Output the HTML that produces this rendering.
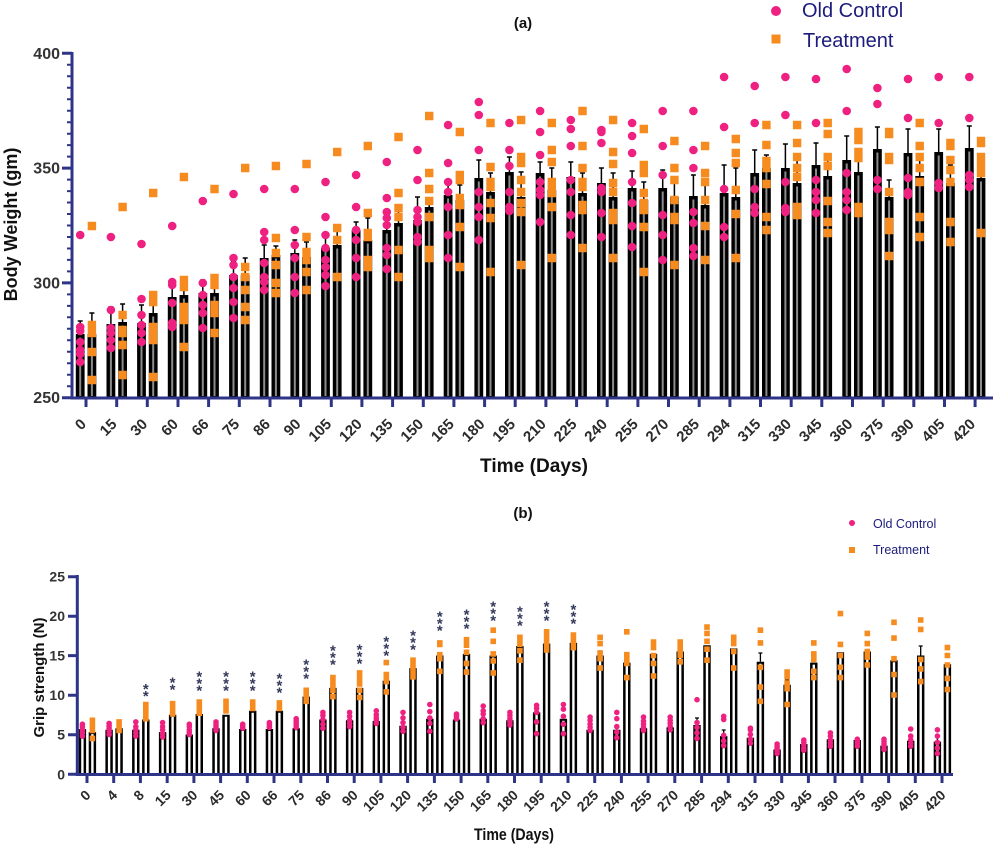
<!DOCTYPE html>
<html><head><meta charset="utf-8"><style>
html,body{margin:0;padding:0;background:#fff}
svg{display:block}
text{font-family:"Liberation Sans",Arial,sans-serif}
.tl{font-weight:bold;font-size:15px;fill:#2b2b2b}
.bl{font-weight:bold;font-size:14px;fill:#2b2b2b}
.st{font-weight:bold;font-size:15px;fill:#33385a;text-anchor:middle}
</style></head><body>
<svg width="1000" height="849" viewBox="0 0 1000 849" xmlns="http://www.w3.org/2000/svg">
<rect width="1000" height="849" fill="#fff"/>

<!-- ===== TOP CHART (a) ===== -->
<text x="523" y="28" font-size="15" font-weight="bold" text-anchor="middle" fill="#111">(a)</text>
<circle cx="776" cy="11" r="5" fill="#EE2080"/>
<text x="802" y="17" font-size="20" fill="#1c1c7c">Old Control</text>
<rect x="771.5" y="34.5" width="9" height="9" fill="#F68B1F"/>
<text x="803" y="47" font-size="20" fill="#1c1c7c">Treatment</text>

<text transform="translate(17,224.5) rotate(-90)" font-size="18" font-weight="bold" text-anchor="middle" fill="#111">Body Weight (gm)</text>
<text x="534" y="472" font-size="19" font-weight="bold" text-anchor="middle" fill="#111" textLength="108" lengthAdjust="spacingAndGlyphs">Time (Days)</text>

<g font-size="16" font-weight="bold" fill="#333" text-anchor="end">
<text x="60" y="59">400</text><text x="60" y="173.6">350</text><text x="60" y="288.4">300</text><text x="60" y="403.2">250</text>
</g>

<!-- bars -->
<path fill="none" stroke="#000" stroke-width="8.8" d="M80.2 397V334M91.9 397V334M110.9 397V324M122.6 397V322M141.5 397V323M153.2 397V313M172.2 397V297M183.9 397V295M202.8 397V293M214.5 397V293M233.5 397V275M245.2 397V275M264.2 397V258M275.9 397V255M294.8 397V253M306.5 397V257M325.5 397V248M337.2 397V245M356.1 397V230M367.8 397V240M386.8 397V230M398.5 397V223M417.5 397V220M429.2 397V207M448.1 397V195M459.8 397V200M478.8 397V178M490.5 397V192M509.4 397V172M521.1 397V197M540.1 397V173M551.8 397V190M570.8 397V177M582.5 397V193M601.4 397V183M613.1 397V197M632.1 397V188M643.8 397V200M662.7 397V188M674.4 397V197M693.4 397V196M705.1 397V205M724.1 397V193M735.8 397V197M754.7 397V173M766.4 397V168M785.4 397V168M797.1 397V183M816 397V165M827.7 397V176M846.7 397V160M858.4 397V172M877.4 397V149M889.1 397V197M908 397V153M919.7 397V176M938.7 397V152M950.4 397V183M969.3 397V148M981 397V178"/>
<path fill="none" stroke="#8c8c8c" stroke-width="2" d="M80.2 396V337.5M91.9 396V337.5M110.9 396V327.5M122.6 396V325.5M141.5 396V326.5M153.2 396V316.5M172.2 396V300.5M183.9 396V298.5M202.8 396V296.5M214.5 396V296.5M233.5 396V278.5M245.2 396V278.5M264.2 396V261.5M275.9 396V258.5M294.8 396V256.5M306.5 396V260.5M325.5 396V251.5M337.2 396V248.5M356.1 396V233.5M367.8 396V243.5M386.8 396V233.5M398.5 396V226.5M417.5 396V223.5M429.2 396V210.5M448.1 396V198.5M459.8 396V203.5M478.8 396V181.5M490.5 396V195.5M509.4 396V175.5M521.1 396V200.5M540.1 396V176.5M551.8 396V193.5M570.8 396V180.5M582.5 396V196.5M601.4 396V186.5M613.1 396V200.5M632.1 396V191.5M643.8 396V203.5M662.7 396V191.5M674.4 396V200.5M693.4 396V199.5M705.1 396V208.5M724.1 396V196.5M735.8 396V200.5M754.7 396V176.5M766.4 396V171.5M785.4 396V171.5M797.1 396V186.5M816 396V168.5M827.7 396V179.5M846.7 396V163.5M858.4 396V175.5M877.4 396V152.5M889.1 396V200.5M908 396V156.5M919.7 396V179.5M938.7 396V155.5M950.4 396V186.5M969.3 396V151.5M981 396V181.5"/>
<!-- error bars -->
<path fill="none" stroke="#000" stroke-width="1.5" d="M80.2 334V321M77.7 321h5M91.9 334V313M89.4 313h5M110.9 324V307M108.4 307h5M122.6 322V304M120.1 304h5M141.5 323V305M139 305h5M153.2 313V300M150.7 300h5M172.2 297V285M169.7 285h5M183.9 295V277M181.4 277h5M202.8 293V280M200.3 280h5M214.5 293V278M212 278h5M233.5 275V262M231 262h5M245.2 275V258M242.7 258h5M264.2 258V245M261.7 245h5M275.9 255V246M273.4 246h5M294.8 253V240M292.3 240h5M306.5 257V242M304 242h5M325.5 248V236M323 236h5M337.2 245V229M334.7 229h5M356.1 230V222M353.6 222h5M367.8 240V218M365.3 218h5M386.8 230V218M384.3 218h5M398.5 223V205M396 205h5M417.5 220V197M415 197h5M429.2 207V200M426.7 200h5M448.1 195V180M445.6 180h5M459.8 200V185M457.3 185h5M478.8 178V160M476.3 160h5M490.5 192V173M488 173h5M509.4 172V157M506.9 157h5M521.1 197V172M518.6 172h5M540.1 173V162M537.6 162h5M551.8 190V168M549.3 168h5M570.8 177V162M568.3 162h5M582.5 193V173M580 173h5M601.4 183V168M598.9 168h5M613.1 197V173M610.6 173h5M632.1 188V171M629.6 171h5M643.8 200V182M641.3 182h5M662.7 188V170M660.2 170h5M674.4 197V180M671.9 180h5M693.4 196V175M690.9 175h5M705.1 205V185M702.6 185h5M724.1 193V165M721.6 165h5M735.8 197V168M733.3 168h5M754.7 173V150M752.2 150h5M766.4 168V155M763.9 155h5M785.4 168V144M782.9 144h5M797.1 183V160M794.6 160h5M816 165V143M813.5 143h5M827.7 176V160M825.2 160h5M846.7 160V136M844.2 136h5M858.4 172V155M855.9 155h5M877.4 149V127M874.9 127h5M889.1 197V180M886.6 180h5M908 153V129M905.5 129h5M919.7 176V160M917.2 160h5M938.7 152V129M936.2 129h5M950.4 183V165M947.9 165h5M969.3 148V126M966.8 126h5M981 178V163M978.5 163h5"/>
<!-- control dots -->
<path fill="none" stroke="#EE2080" stroke-width="8.6" stroke-linecap="round" d="M80.2 235h.01M80.2 327h.01M80.2 331h.01M80.2 342h.01M80.2 350h.01M80.2 354h.01M80.2 362h.01M110.9 237h.01M110.9 310h.01M110.9 328h.01M110.9 333h.01M110.9 340h.01M110.9 348h.01M141.5 244h.01M141.5 299h.01M141.5 315h.01M141.5 325h.01M141.5 333h.01M141.5 342h.01M172.2 226h.01M172.2 282h.01M172.2 285h.01M172.2 303h.01M172.2 323h.01M172.2 327h.01M202.8 201h.01M202.8 283h.01M202.8 295h.01M202.8 305h.01M202.8 313h.01M202.8 328h.01M233.5 194h.01M233.5 258h.01M233.5 265h.01M233.5 277h.01M233.5 288h.01M233.5 302h.01M233.5 318h.01M264.2 189h.01M264.2 232h.01M264.2 240h.01M264.2 263h.01M264.2 277h.01M264.2 282h.01M264.2 290h.01M294.8 189h.01M294.8 230h.01M294.8 245h.01M294.8 258h.01M294.8 277h.01M294.8 293h.01M325.5 182h.01M325.5 217h.01M325.5 235h.01M325.5 248h.01M325.5 260h.01M325.5 267h.01M325.5 275h.01M325.5 286h.01M356.1 175h.01M356.1 207h.01M356.1 230h.01M356.1 240h.01M356.1 258h.01M356.1 277h.01M386.8 162h.01M386.8 198h.01M386.8 212h.01M386.8 218h.01M386.8 225h.01M386.8 248h.01M386.8 255h.01M386.8 269h.01M417.5 150h.01M417.5 180h.01M417.5 210h.01M417.5 217h.01M417.5 222h.01M417.5 237h.01M417.5 242h.01M448.1 125h.01M448.1 163h.01M448.1 182h.01M448.1 192h.01M448.1 207h.01M448.1 235h.01M448.1 258h.01M478.8 102h.01M478.8 115h.01M478.8 150h.01M478.8 192h.01M478.8 207h.01M478.8 217h.01M478.8 240h.01M509.4 123h.01M509.4 150h.01M509.4 166h.01M509.4 192h.01M509.4 207h.01M509.4 211h.01M540.1 111h.01M540.1 132h.01M540.1 155h.01M540.1 182h.01M540.1 190h.01M540.1 195h.01M540.1 222h.01M570.8 120h.01M570.8 129h.01M570.8 146h.01M570.8 180h.01M570.8 192h.01M570.8 215h.01M570.8 235h.01M601.4 130h.01M601.4 132h.01M601.4 143h.01M601.4 188h.01M601.4 192h.01M601.4 213h.01M601.4 237h.01M632.1 123h.01M632.1 136h.01M632.1 153h.01M632.1 182h.01M632.1 203h.01M632.1 226h.01M632.1 247h.01M662.7 111h.01M662.7 146h.01M662.7 175h.01M662.7 215h.01M662.7 235h.01M662.7 260h.01M693.4 111h.01M693.4 150h.01M693.4 168h.01M693.4 212h.01M693.4 223h.01M693.4 248h.01M693.4 256h.01M724.1 77h.01M724.1 127h.01M724.1 189h.01M724.1 227h.01M724.1 237h.01M754.7 86h.01M754.7 123h.01M754.7 189h.01M754.7 207h.01M754.7 213h.01M785.4 77h.01M785.4 115h.01M785.4 182h.01M785.4 208h.01M785.4 212h.01M816 79h.01M816 123h.01M816 180h.01M816 192h.01M816 200h.01M816 213h.01M846.7 69h.01M846.7 111h.01M846.7 173h.01M846.7 192h.01M846.7 200h.01M846.7 210h.01M877.4 88h.01M877.4 104h.01M877.4 180h.01M877.4 189h.01M908 79h.01M908 118h.01M908 178h.01M908 192h.01M908 195h.01M938.7 77h.01M938.7 123h.01M938.7 183h.01M938.7 188h.01M969.3 77h.01M969.3 118h.01M969.3 175h.01M969.3 180h.01M969.3 187h.01"/>
<!-- treatment squares -->
<path fill="none" stroke="#F68B1F" stroke-width="8.4" stroke-linecap="square" d="M91.9 226h.01M91.9 325h.01M91.9 333h.01M91.9 352h.01M91.9 380h.01M122.6 207h.01M122.6 315h.01M122.6 330h.01M122.6 333h.01M122.6 345h.01M122.6 375h.01M153.2 193h.01M153.2 295h.01M153.2 302h.01M153.2 327h.01M153.2 332h.01M153.2 340h.01M153.2 377h.01M183.9 177h.01M183.9 280h.01M183.9 287h.01M183.9 307h.01M183.9 313h.01M183.9 320h.01M183.9 347h.01M214.5 189h.01M214.5 278h.01M214.5 285h.01M214.5 305h.01M214.5 313h.01M214.5 333h.01M245.2 168h.01M245.2 267h.01M245.2 277h.01M245.2 290h.01M245.2 307h.01M245.2 320h.01M275.9 166h.01M275.9 238h.01M275.9 253h.01M275.9 265h.01M275.9 283h.01M275.9 293h.01M306.5 164h.01M306.5 237h.01M306.5 252h.01M306.5 260h.01M306.5 272h.01M306.5 290h.01M337.2 152h.01M337.2 228h.01M337.2 240h.01M337.2 277h.01M367.8 146h.01M367.8 213h.01M367.8 233h.01M367.8 237h.01M367.8 260h.01M367.8 267h.01M398.5 137h.01M398.5 193h.01M398.5 208h.01M398.5 217h.01M398.5 250h.01M398.5 277h.01M429.2 116h.01M429.2 173h.01M429.2 189h.01M429.2 201h.01M429.2 217h.01M429.2 250h.01M429.2 258h.01M459.8 132h.01M459.8 175h.01M459.8 180h.01M459.8 198h.01M459.8 205h.01M459.8 227h.01M459.8 267h.01M490.5 123h.01M490.5 167h.01M490.5 182h.01M490.5 187h.01M490.5 203h.01M490.5 218h.01M490.5 272h.01M521.1 120h.01M521.1 157h.01M521.1 163h.01M521.1 180h.01M521.1 192h.01M521.1 203h.01M521.1 212h.01M521.1 265h.01M551.8 123h.01M551.8 150h.01M551.8 162h.01M551.8 182h.01M551.8 185h.01M551.8 193h.01M551.8 207h.01M551.8 258h.01M582.5 111h.01M582.5 146h.01M582.5 168h.01M582.5 182h.01M582.5 187h.01M582.5 205h.01M582.5 210h.01M582.5 248h.01M613.1 120h.01M613.1 152h.01M613.1 164h.01M613.1 183h.01M613.1 192h.01M613.1 213h.01M613.1 220h.01M613.1 258h.01M643.8 129h.01M643.8 165h.01M643.8 173h.01M643.8 193h.01M643.8 203h.01M643.8 210h.01M643.8 227h.01M643.8 272h.01M674.4 141h.01M674.4 168h.01M674.4 180h.01M674.4 200h.01M674.4 217h.01M674.4 220h.01M674.4 265h.01M705.1 146h.01M705.1 173h.01M705.1 182h.01M705.1 200h.01M705.1 226h.01M705.1 260h.01M735.8 139h.01M735.8 153h.01M735.8 163h.01M735.8 190h.01M735.8 214h.01M735.8 258h.01M766.4 125h.01M766.4 145h.01M766.4 161h.01M766.4 168h.01M766.4 184h.01M766.4 217h.01M766.4 230h.01M797.1 125h.01M797.1 143h.01M797.1 157h.01M797.1 168h.01M797.1 177h.01M797.1 207h.01M797.1 215h.01M827.7 123h.01M827.7 134h.01M827.7 157h.01M827.7 166h.01M827.7 201h.01M827.7 222h.01M827.7 233h.01M858.4 132h.01M858.4 140h.01M858.4 152h.01M858.4 158h.01M858.4 207h.01M858.4 213h.01M889.1 132h.01M889.1 134h.01M889.1 157h.01M889.1 160h.01M889.1 192h.01M889.1 222h.01M889.1 230h.01M889.1 256h.01M919.7 123h.01M919.7 146h.01M919.7 157h.01M919.7 168h.01M919.7 182h.01M919.7 217h.01M919.7 237h.01M950.4 143h.01M950.4 146h.01M950.4 160h.01M950.4 170h.01M950.4 182h.01M950.4 222h.01M950.4 242h.01M981 141h.01M981 143h.01M981 157h.01M981 165h.01M981 173h.01M981 233h.01"/>

<!-- top axes -->
<g stroke="#2e3588" fill="none">
<path stroke-width="3" d="M72 52V399.5M70.5 398H993"/>
<path stroke-width="3" d="M62 53.3h10M62 168.1h10M62 282.9h10M62 397.7h10"/>
<path stroke-width="2" d="M67 64.8h5M67 76.3h5M67 87.7h5M67 99.2h5M67 110.7h5M67 122.2h5M67 133.7h5M67 145.1h5M67 156.6h5M67 179.6h5M67 191.1h5M67 202.5h5M67 214h5M67 225.5h5M67 237h5M67 248.5h5M67 259.9h5M67 271.4h5M67 294.4h5M67 305.9h5M67 317.3h5M67 328.8h5M67 340.3h5M67 351.8h5M67 363.3h5M67 374.7h5M67 386.2h5"/>
<path stroke-width="3" d="M86 398v9M116.7 398v9M147.3 398v9M178 398v9M208.6 398v9M239.3 398v9M270 398v9M300.6 398v9M331.3 398v9M361.9 398v9M392.6 398v9M423.3 398v9M453.9 398v9M484.6 398v9M515.2 398v9M545.9 398v9M576.6 398v9M607.2 398v9M637.9 398v9M668.5 398v9M699.2 398v9M729.9 398v9M760.5 398v9M791.2 398v9M821.8 398v9M852.5 398v9M883.2 398v9M913.8 398v9M944.5 398v9M975.1 398v9"/>
</g>
<g class="tl" text-anchor="end">
<text transform="translate(87,425) rotate(-45)">0</text>
<text transform="translate(117.7,425) rotate(-45)">15</text>
<text transform="translate(148.3,425) rotate(-45)">30</text>
<text transform="translate(179,425) rotate(-45)">60</text>
<text transform="translate(209.6,425) rotate(-45)">66</text>
<text transform="translate(240.3,425) rotate(-45)">75</text>
<text transform="translate(271,425) rotate(-45)">86</text>
<text transform="translate(301.6,425) rotate(-45)">90</text>
<text transform="translate(332.3,425) rotate(-45)">105</text>
<text transform="translate(362.9,425) rotate(-45)">120</text>
<text transform="translate(393.6,425) rotate(-45)">135</text>
<text transform="translate(424.3,425) rotate(-45)">150</text>
<text transform="translate(454.9,425) rotate(-45)">165</text>
<text transform="translate(485.6,425) rotate(-45)">180</text>
<text transform="translate(516.2,425) rotate(-45)">195</text>
<text transform="translate(546.9,425) rotate(-45)">210</text>
<text transform="translate(577.6,425) rotate(-45)">225</text>
<text transform="translate(608.2,425) rotate(-45)">240</text>
<text transform="translate(638.9,425) rotate(-45)">255</text>
<text transform="translate(669.5,425) rotate(-45)">270</text>
<text transform="translate(700.2,425) rotate(-45)">285</text>
<text transform="translate(730.9,425) rotate(-45)">294</text>
<text transform="translate(761.5,425) rotate(-45)">315</text>
<text transform="translate(792.2,425) rotate(-45)">330</text>
<text transform="translate(822.8,425) rotate(-45)">345</text>
<text transform="translate(853.5,425) rotate(-45)">360</text>
<text transform="translate(884.2,425) rotate(-45)">375</text>
<text transform="translate(914.8,425) rotate(-45)">390</text>
<text transform="translate(945.5,425) rotate(-45)">405</text>
<text transform="translate(976.1,425) rotate(-45)">420</text>
</g>

<!-- ===== BOTTOM CHART (b) ===== -->
<text x="523" y="518" font-size="15" font-weight="bold" text-anchor="middle" fill="#111">(b)</text>
<circle cx="852" cy="523" r="3" fill="#EE2080"/>
<text x="873" y="528" font-size="12.5" fill="#1c1c7c">Old Control</text>
<rect x="849" y="547" width="6" height="6" fill="#F68B1F"/>
<text x="873" y="554" font-size="12.5" fill="#1c1c7c">Treatment</text>

<text transform="translate(44,677.5) rotate(-90)" font-size="15" font-weight="bold" text-anchor="middle" fill="#111">Grip strength (N)</text>
<text x="514" y="840" font-size="17" font-weight="bold" text-anchor="middle" fill="#111" textLength="80" lengthAdjust="spacingAndGlyphs">Time (Days)</text>

<g font-size="14" font-weight="bold" fill="#333" text-anchor="end">
<text x="65" y="581.7">25</text><text x="65" y="621.2">20</text><text x="65" y="660.6">15</text><text x="65" y="700.2">10</text><text x="65" y="739.7">5</text><text x="65" y="779.3">0</text>
</g>

<path fill="none" stroke="#000" stroke-width="7.4" d="M82.4 773V729M92.4 773V732.1M109.1 773V729.8M119.1 773V728.2M135.8 773V729.8M145.8 773V719.5M162.6 773V732.1M172.6 773V714.7M189.3 773V734.5M199.3 773V714M216 773V728.2M226 773V714.7M242.7 773V729M252.7 773V710.8M269.4 773V729M279.4 773V710.8M296.2 773V728.2M306.2 773V696.6M322.9 773V719.5M332.9 773V687.9M349.6 773V720.3M359.6 773V687.9M376.3 773V721.1M386.3 773V680.8M403 773V725.8M413 773V668.1M429.8 773V718.7M439.8 773V655.5M456.5 773V719.5M466.5 773V653.9M483.2 773V718.7M493.2 773V655.5M509.9 773V720.3M519.9 773V646M536.6 773V712.4M546.6 773V643.6M563.4 773V718.7M573.4 773V642.9M590.1 773V729.8M600.1 773V655.5M616.8 773V729.8M626.8 773V662.6M643.5 773V728.2M653.5 773V653.9M670.2 773V727.4M680.2 773V651.5M697 773V725M707 773V645.2M723.7 773V736.1M733.7 773V648.4M750.4 773V737.7M760.4 773V661.8M777.1 773V749.5M787.1 773V684.7M803.8 773V744M813.8 773V662.6M830.4 773V739.2M840.4 773V652.3M857.3 773V740M867.3 773V651.5M884 773V745.6M894 773V660.2M910.7 773V740.8M920.7 773V655.5M937.4 773V741.6M947.4 773V664.2"/>
<path fill="none" stroke="#fff" stroke-width="2.4" d="M82.4 773V731M92.4 773V734.1M109.1 773V731.8M119.1 773V730.2M135.8 773V731.8M145.8 773V721.5M162.6 773V734.1M172.6 773V716.7M189.3 773V736.5M199.3 773V716M216 773V730.2M226 773V716.7M242.7 773V731M252.7 773V712.8M269.4 773V731M279.4 773V712.8M296.2 773V730.2M306.2 773V698.6M322.9 773V721.5M332.9 773V689.9M349.6 773V722.3M359.6 773V689.9M376.3 773V723.1M386.3 773V682.8M403 773V727.8M413 773V670.1M429.8 773V720.7M439.8 773V657.5M456.5 773V721.5M466.5 773V655.9M483.2 773V720.7M493.2 773V657.5M509.9 773V722.3M519.9 773V648M536.6 773V714.4M546.6 773V645.6M563.4 773V720.7M573.4 773V644.9M590.1 773V731.8M600.1 773V657.5M616.8 773V731.8M626.8 773V664.6M643.5 773V730.2M653.5 773V655.9M670.2 773V729.4M680.2 773V653.5M697 773V727M707 773V647.2M723.7 773V738.1M733.7 773V650.4M750.4 773V739.7M760.4 773V663.8M777.1 773V751.5M787.1 773V686.7M803.8 773V746M813.8 773V664.6M830.4 773V741.2M840.4 773V654.3M857.3 773V742M867.3 773V653.5M884 773V747.6M894 773V662.2M910.7 773V742.8M920.7 773V657.5M937.4 773V743.6M947.4 773V666.2"/>
<path fill="none" stroke="#000" stroke-width="1.3" d="M697 725V718M695 718h4M723.7 736.1V730M721.7 730h4M760.4 661.8V653M758.4 653h4M920.7 655.5V646M918.7 646h4M937.4 741.6V736M935.4 736h4M787.1 684.7V680M785.1 680h4M600.1 655.5V651M598.1 651h4"/>

<path fill="none" stroke="#EE2080" stroke-width="5.6" stroke-linecap="round" d="M82.4 736.1h.01M82.4 732.9h.01M82.4 729.8h.01M82.4 726.6h.01M82.4 724.2h.01M109.1 734.5h.01M109.1 731.3h.01M109.1 728.2h.01M109.1 725.8h.01M109.1 723.4h.01M135.8 736.1h.01M135.8 732.9h.01M135.8 729.8h.01M135.8 726.6h.01M135.8 721.9h.01M162.6 736.9h.01M162.6 733.7h.01M162.6 729.8h.01M162.6 726.6h.01M162.6 722.6h.01M189.3 734.5h.01M189.3 732.1h.01M189.3 729.8h.01M189.3 726.6h.01M189.3 724.2h.01M216 730.5h.01M216 728.2h.01M216 726.6h.01M216 724.2h.01M216 721.9h.01M242.7 728.2h.01M242.7 727.4h.01M242.7 726.6h.01M242.7 725h.01M242.7 724.2h.01M269.4 727.4h.01M269.4 726.6h.01M269.4 725h.01M269.4 723.4h.01M269.4 722.6h.01M296.2 727.4h.01M296.2 725h.01M296.2 722.6h.01M296.2 720.3h.01M296.2 718.7h.01M322.9 728.2h.01M322.9 724.2h.01M322.9 719.5h.01M322.9 715.5h.01M322.9 712.4h.01M349.6 726.6h.01M349.6 723.4h.01M349.6 720.3h.01M349.6 716.3h.01M349.6 712.4h.01M376.3 723.4h.01M376.3 720.3h.01M376.3 717.9h.01M376.3 714.7h.01M376.3 710.8h.01M403 731.3h.01M403 727.4h.01M403 722.6h.01M403 717.9h.01M403 712.4h.01M429.8 731.3h.01M429.8 723.4h.01M429.8 717.9h.01M429.8 711.6h.01M429.8 704.5h.01M456.5 718.7h.01M456.5 717.1h.01M456.5 715.5h.01M456.5 714.7h.01M456.5 714h.01M483.2 722.6h.01M483.2 718.7h.01M483.2 714h.01M483.2 710.8h.01M483.2 706.1h.01M509.9 725h.01M509.9 721.9h.01M509.9 718.7h.01M509.9 715.5h.01M509.9 712.4h.01M536.6 733.7h.01M536.6 721.9h.01M536.6 712.4h.01M536.6 708.4h.01M536.6 705.3h.01M563.4 733.7h.01M563.4 724.2h.01M563.4 716.3h.01M563.4 709.2h.01M563.4 704.5h.01M590.1 730.5h.01M590.1 727.4h.01M590.1 724.2h.01M590.1 720.3h.01M590.1 717.1h.01M616.8 737.7h.01M616.8 732.1h.01M616.8 726.6h.01M616.8 718.7h.01M616.8 712.4h.01M643.5 730.5h.01M643.5 727.4h.01M643.5 724.2h.01M643.5 721.1h.01M643.5 717.1h.01M670.2 729.8h.01M670.2 726.6h.01M670.2 723.4h.01M670.2 720.3h.01M670.2 717.1h.01M697 738.4h.01M697 732.9h.01M697 727.4h.01M697 722.6h.01M697 699.7h.01M723.7 745.6h.01M723.7 740.8h.01M723.7 735.3h.01M723.7 719.5h.01M723.7 716.3h.01M750.4 743.2h.01M750.4 739.2h.01M750.4 734.5h.01M750.4 729.8h.01M750.4 728.2h.01M777.1 753.5h.01M777.1 751h.01M777.1 748.7h.01M777.1 746.3h.01M777.1 744h.01M803.8 750.3h.01M803.8 748h.01M803.8 744.8h.01M803.8 742.4h.01M803.8 740h.01M830.4 746.3h.01M830.4 743.2h.01M830.4 740h.01M830.4 736.1h.01M830.4 732.9h.01M857.3 746.3h.01M857.3 744h.01M857.3 742.4h.01M857.3 740.8h.01M857.3 739.2h.01M884 749.5h.01M884 746.3h.01M884 744h.01M884 741.6h.01M884 739.2h.01M910.7 746.3h.01M910.7 743.2h.01M910.7 740h.01M910.7 736.1h.01M910.7 729h.01M937.4 753.5h.01M937.4 748h.01M937.4 742.4h.01M937.4 736.1h.01M937.4 729.8h.01"/>
<path fill="none" stroke="#F68B1F" stroke-width="5.6" stroke-linecap="square" d="M92.4 738.4h.01M92.4 730.5h.01M92.4 726.6h.01M92.4 722.6h.01M92.4 720.3h.01M119.1 730.5h.01M119.1 728.2h.01M119.1 725.8h.01M119.1 723.4h.01M119.1 721.9h.01M145.8 718.7h.01M145.8 714h.01M145.8 710.8h.01M145.8 706.8h.01M145.8 704.5h.01M172.6 714h.01M172.6 710.8h.01M172.6 708.4h.01M172.6 706.1h.01M172.6 703.7h.01M199.3 713.2h.01M199.3 710.8h.01M199.3 707.6h.01M199.3 704.5h.01M199.3 702.1h.01M226 710.8h.01M226 707.6h.01M226 705.3h.01M226 702.9h.01M226 701.3h.01M252.7 708.4h.01M252.7 706.8h.01M252.7 705.3h.01M252.7 703.7h.01M252.7 702.1h.01M279.4 708.4h.01M279.4 706.8h.01M279.4 705.3h.01M279.4 703.7h.01M279.4 702.9h.01M306.2 701.3h.01M306.2 697.4h.01M306.2 695h.01M306.2 692.6h.01M306.2 690.3h.01M332.9 696.6h.01M332.9 690.3h.01M332.9 685.5h.01M332.9 680.8h.01M332.9 677.6h.01M359.6 697.4h.01M359.6 690.3h.01M359.6 683.9h.01M359.6 678.4h.01M359.6 672.9h.01M386.3 691.8h.01M386.3 681.6h.01M386.3 678.4h.01M386.3 674.5h.01M386.3 662.6h.01M413 676.8h.01M413 671.3h.01M413 666.6h.01M413 663.4h.01M413 660.2h.01M439.8 671.3h.01M439.8 658.7h.01M439.8 654.7h.01M439.8 644.4h.01M439.8 642.9h.01M466.5 672.1h.01M466.5 663.4h.01M466.5 652.3h.01M466.5 645.2h.01M466.5 639.7h.01M493.2 672.9h.01M493.2 661h.01M493.2 653.9h.01M493.2 641.3h.01M493.2 630.2h.01M519.9 660.2h.01M519.9 650.8h.01M519.9 644.4h.01M519.9 639.7h.01M519.9 637.3h.01M546.6 650h.01M546.6 645.2h.01M546.6 639.7h.01M546.6 635.7h.01M546.6 631.8h.01M573.4 647.6h.01M573.4 643.6h.01M573.4 640.5h.01M573.4 637.3h.01M573.4 635h.01M600.1 668.1h.01M600.1 658.7h.01M600.1 653.1h.01M600.1 643.6h.01M600.1 637.3h.01M626.8 677.6h.01M626.8 663.4h.01M626.8 658.7h.01M626.8 654.7h.01M626.8 631.8h.01M653.5 676h.01M653.5 663.4h.01M653.5 655.5h.01M653.5 647.6h.01M653.5 642.1h.01M680.2 661.8h.01M680.2 655.5h.01M680.2 650h.01M680.2 645.2h.01M680.2 642.1h.01M707 660.2h.01M707 649.2h.01M707 641.3h.01M707 633.4h.01M707 627.1h.01M733.7 668.1h.01M733.7 651.5h.01M733.7 643.6h.01M733.7 639.7h.01M733.7 637.3h.01M760.4 701.3h.01M760.4 687.1h.01M760.4 667.3h.01M760.4 642.9h.01M760.4 630.2h.01M787.1 704.5h.01M787.1 688.7h.01M787.1 683.1h.01M787.1 676.8h.01M787.1 672.1h.01M813.8 677.6h.01M813.8 671.3h.01M813.8 659.4h.01M813.8 653.9h.01M813.8 642.9h.01M840.4 677.6h.01M840.4 667.3h.01M840.4 655.5h.01M840.4 644.4h.01M840.4 613.6h.01M867.3 665h.01M867.3 657.1h.01M867.3 651.5h.01M867.3 643.6h.01M867.3 633.4h.01M894 695h.01M894 674.5h.01M894 658.7h.01M894 638.1h.01M894 622.3h.01M920.7 681.6h.01M920.7 668.9h.01M920.7 659.4h.01M920.7 629.4h.01M920.7 620h.01M947.4 689.5h.01M947.4 678.4h.01M947.4 665h.01M947.4 655.5h.01M947.4 647.6h.01"/>

<!-- significance stars -->
<g class="st">
<text x="145.8" y="693.9">*</text><text x="145.8" y="700.9">*</text>
<text x="172.6" y="687.4">*</text><text x="172.6" y="694.4">*</text>
<text x="199.3" y="681.4">*</text><text x="199.3" y="688.4">*</text><text x="199.3" y="695.4">*</text>
<text x="226" y="681.4">*</text><text x="226" y="688.4">*</text><text x="226" y="695.4">*</text>
<text x="252.7" y="681.4">*</text><text x="252.7" y="688.4">*</text><text x="252.7" y="695.4">*</text>
<text x="279.4" y="683.4">*</text><text x="279.4" y="690.4">*</text><text x="279.4" y="697.4">*</text>
<text x="306.2" y="669.4">*</text><text x="306.2" y="676.4">*</text><text x="306.2" y="683.4">*</text>
<text x="332.9" y="655.4">*</text><text x="332.9" y="662.4">*</text><text x="332.9" y="669.4">*</text>
<text x="359.6" y="654.4">*</text><text x="359.6" y="661.4">*</text><text x="359.6" y="668.4">*</text>
<text x="386.3" y="646.4">*</text><text x="386.3" y="653.4">*</text><text x="386.3" y="660.4">*</text>
<text x="413" y="640.4">*</text><text x="413" y="647.4">*</text><text x="413" y="654.4">*</text>
<text x="439.8" y="621.4">*</text><text x="439.8" y="628.4">*</text><text x="439.8" y="635.4">*</text>
<text x="466.5" y="619.4">*</text><text x="466.5" y="626.4">*</text><text x="466.5" y="633.4">*</text>
<text x="493.2" y="611.4">*</text><text x="493.2" y="618.4">*</text><text x="493.2" y="625.4">*</text>
<text x="519.9" y="616.4">*</text><text x="519.9" y="623.4">*</text><text x="519.9" y="630.4">*</text>
<text x="546.6" y="611.4">*</text><text x="546.6" y="618.4">*</text><text x="546.6" y="625.4">*</text>
<text x="573.4" y="614.4">*</text><text x="573.4" y="621.4">*</text><text x="573.4" y="628.4">*</text>
</g>

<!-- bottom axes -->
<g stroke="#2e3588" fill="none" stroke-width="3">
<path d="M77.3 575V776M76 774.5H953"/>
<path d="M68 576.7h9M68 616.2h9M68 655.6h9M68 695.2h9M68 734.7h9M68 774.3h9"/>
<path d="M87 775v8M113.7 775v8M140.4 775v8M167.2 775v8M193.9 775v8M220.6 775v8M247.3 775v8M274 775v8M300.8 775v8M327.5 775v8M354.2 775v8M380.9 775v8M407.6 775v8M434.4 775v8M461.1 775v8M487.8 775v8M514.5 775v8M541.2 775v8M568 775v8M594.7 775v8M621.4 775v8M648.1 775v8M674.8 775v8M701.6 775v8M728.3 775v8M755 775v8M781.7 775v8M808.4 775v8M835 775v8M861.9 775v8M888.6 775v8M915.3 775v8M942 775v8"/>
</g>
<g class="bl" text-anchor="end">
<text transform="translate(91.5,796) rotate(-45)">0</text>
<text transform="translate(118.2,796) rotate(-45)">4</text>
<text transform="translate(144.9,796) rotate(-45)">8</text>
<text transform="translate(171.7,796) rotate(-45)">15</text>
<text transform="translate(198.4,796) rotate(-45)">30</text>
<text transform="translate(225.1,796) rotate(-45)">45</text>
<text transform="translate(251.8,796) rotate(-45)">60</text>
<text transform="translate(278.5,796) rotate(-45)">66</text>
<text transform="translate(305.3,796) rotate(-45)">75</text>
<text transform="translate(332,796) rotate(-45)">86</text>
<text transform="translate(358.7,796) rotate(-45)">90</text>
<text transform="translate(385.4,796) rotate(-45)">105</text>
<text transform="translate(412.1,796) rotate(-45)">120</text>
<text transform="translate(438.9,796) rotate(-45)">135</text>
<text transform="translate(465.6,796) rotate(-45)">150</text>
<text transform="translate(492.3,796) rotate(-45)">165</text>
<text transform="translate(519,796) rotate(-45)">180</text>
<text transform="translate(545.7,796) rotate(-45)">195</text>
<text transform="translate(572.5,796) rotate(-45)">210</text>
<text transform="translate(599.2,796) rotate(-45)">225</text>
<text transform="translate(625.9,796) rotate(-45)">240</text>
<text transform="translate(652.6,796) rotate(-45)">255</text>
<text transform="translate(679.3,796) rotate(-45)">270</text>
<text transform="translate(706.1,796) rotate(-45)">285</text>
<text transform="translate(732.8,796) rotate(-45)">294</text>
<text transform="translate(759.5,796) rotate(-45)">315</text>
<text transform="translate(786.2,796) rotate(-45)">330</text>
<text transform="translate(812.9,796) rotate(-45)">345</text>
<text transform="translate(839.5,796) rotate(-45)">360</text>
<text transform="translate(866.4,796) rotate(-45)">375</text>
<text transform="translate(893.1,796) rotate(-45)">390</text>
<text transform="translate(919.8,796) rotate(-45)">405</text>
<text transform="translate(946.5,796) rotate(-45)">420</text>
</g>
</svg>
</body></html>
